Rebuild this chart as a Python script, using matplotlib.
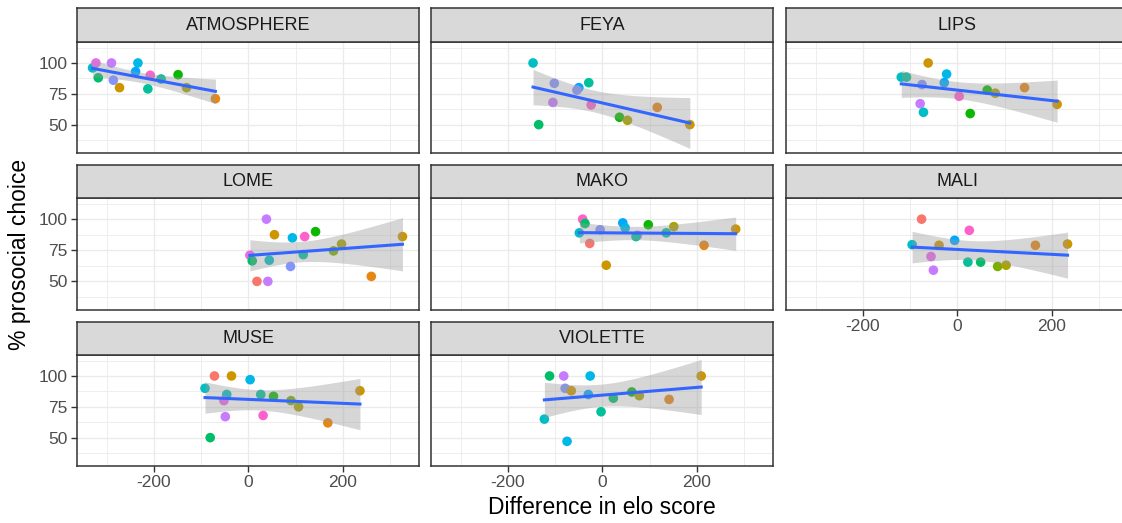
import numpy as np
import matplotlib
matplotlib.use('Agg')
import matplotlib.pyplot as plt

plt.rcParams['font.family'] = ['Liberation Sans', 'DejaVu Sans']
plt.rcParams['axes.unicode_minus'] = False

# 데이터
subjects = ['ATMOSPHERE', 'FEYA', 'LIPS', 'LOME', 'MAKO', 'MALI', 'MUSE', 'VIOLETTE']

atmosphere_x = [-330, -323, -318, -290, -286, -273, -234, -239, -208, -213, -185, -149, -131, -70]
atmosphere_y = [96, 100, 88, 100, 86, 80, 100, 93, 90, 79, 87, 90.5, 80, 71]
atmosphere_p = [8, 13, 6, 12, 11, 2, 9, 10, 14, 7, 7, 5, 3, 1]

feya_x = [-147, -135, -102, -105, -50, -54, -29, -24, 36, 53, 116, 185]
feya_y = [100, 50, 83.5, 68, 80, 78, 84, 66, 56, 53.5, 64, 50]
feya_p = [8, 6, 11, 12, 10, 11, 7, 14, 5, 3, 1, 2]

lips_x = [-119, -108, -62, -75, -23, -28, -79, -72, 3.5, 27, 63, 80, 142, 211]
lips_y = [88.5, 88.5, 100, 82.5, 91, 84, 67, 60, 73, 59, 78, 75.5, 80, 66.5]
lips_p = [8, 7, 2, 11, 9, 10, 12, 8, 14, 5, 5, 3, 1, 2]

lome_x = [3, 8, 18, 38, 41, 44, 55, 89, 93, 119, 116, 142, 180, 197, 260, 326]
lome_y = [71, 66.5, 50, 100, 50, 67, 87.5, 62, 85, 86, 71.5, 90, 74.5, 80, 54, 86]
lome_p = [13, 6, 0, 12, 12, 8, 2, 11, 9, 14, 7, 5, 4, 3, 1, 2]

mako_x = [-42, -37, -49, -27, -5, 8, 43, 48, 74, 71, 97, 135, 151, 215, 282]
mako_y = [100, 96.5, 89, 80.5, 91.5, 63, 97, 93, 87, 86, 95.5, 89, 94, 79, 92]
mako_p = [14, 6, 8, 0, 11, 2, 10, 9, 12, 7, 5, 7, 3, 1, 2]

mali_x = [-96, -76, -56, -51, -39, -6, 25, 22, 49, 85, 103, 165, 233]
mali_y = [79.5, 100, 70, 59, 79, 83, 91, 65.5, 65.5, 62, 63, 79, 80]
mali_p = [8, 0, 13, 12, 2, 10, 14, 7, 6, 4, 3, 1, 2]

muse_x = [-92, -72, -36, 3.5, -46, -52, -49, -81, 26, 53, 90, 106, 31, 168, 236]
muse_y = [90, 100, 100, 97, 85, 80, 67, 50, 85, 83.5, 80, 75, 68, 62, 88]
muse_p = [8, 0, 2, 9, 8, 13, 12, 6, 7, 5, 4, 3, 14, 1, 2]

violette_x = [-112, -82, -26, -79, -66, -30, 23, -3, -123, -75, 62, 78, 141, 209]
violette_y = [100, 100, 100, 90, 88, 85, 82, 71, 65, 47, 87, 84, 81, 100]
violette_p = [6, 12, 9, 11, 2, 10, 6, 7, 8, 9, 5, 3, 1, 2]

xs = [atmosphere_x, feya_x, lips_x, lome_x, mako_x, mali_x, muse_x, violette_x]
ys = [atmosphere_y, feya_y, lips_y, lome_y, mako_y, mali_y, muse_y, violette_y]
ps = [atmosphere_p, feya_p, lips_p, lome_p, mako_p, mali_p, muse_p, violette_p]


def hcl_hex(h, c=100, l=65):
    # ggplot 기본 hue 팔레트 (polar Luv -> sRGB)
    hr = np.radians(h)
    u, v = c * np.cos(hr), c * np.sin(hr)
    Xn, Yn, Zn = 95.047, 100.0, 108.883
    un = 4 * Xn / (Xn + 15 * Yn + 3 * Zn)
    vn = 9 * Yn / (Xn + 15 * Yn + 3 * Zn)
    Y = Yn * ((l + 16) / 116) ** 3
    up = u / (13 * l) + un
    vp = v / (13 * l) + vn
    X = Y * 9 * up / (4 * vp)
    Z = Y * (12 - 3 * up - 20 * vp) / (4 * vp)
    X, Y, Z = X / 100, Y / 100, Z / 100
    rgb = np.array([3.2406 * X - 1.5372 * Y - 0.4986 * Z,
                    -0.9689 * X + 1.8758 * Y + 0.0415 * Z,
                    0.0557 * X - 0.2040 * Y + 1.0570 * Z])
    rgb = np.where(rgb <= 0.0031308, 12.92 * rgb, 1.055 * np.abs(rgb) ** (1 / 2.4) - 0.055)
    return tuple(np.clip(rgb, 0, 1))


n_levels = 16
palette = [hcl_hex(15 + 360 * i / n_levels) for i in range(n_levels)]


def t_crit(df):
    z = 1.959964
    return (z + (z ** 3 + z) / (4 * df) + (5 * z ** 5 + 16 * z ** 3 + 3 * z) / (96 * df ** 2)
            + (3 * z ** 7 + 19 * z ** 5 + 17 * z ** 3 - 15 * z) / (384 * df ** 3))


def lm_fit(x, y):
    x = np.asarray(x, float)
    y = np.asarray(y, float)
    n = len(x)
    b, a = np.polyfit(x, y, 1)
    resid = y - (a + b * x)
    s = np.sqrt(np.sum(resid ** 2) / (n - 2))
    xg = np.linspace(x.min(), x.max(), 80)
    fit = a + b * xg
    se = s * np.sqrt(1 / n + (xg - x.mean()) ** 2 / np.sum((x - x.mean()) ** 2))
    t = t_crit(n - 2)
    return xg, fit, fit - t * se, fit + t * se


W, H = 1122, 523
fig = plt.figure(figsize=(W / 100, H / 100), dpi=100)

cols = [(77, 419), (431, 773), (786, 1128)]
rows = [(42, 153), (198, 310), (355, 466)]
strips = [(8, 42), (165, 198), (322, 355)]
border = '#333333'

for i, name in enumerate(subjects):
    r, c = divmod(i, 3)
    x0, x1 = cols[c]
    y0, y1 = rows[r]
    ax = fig.add_axes([x0 / W, 1 - y1 / H, (x1 - x0) / W, (y1 - y0) / H])
    s0, s1 = strips[r]
    sax = fig.add_axes([x0 / W, 1 - s1 / H, (x1 - x0) / W, (s1 - s0) / H])
    sax.set_facecolor('#D9D9D9')
    sax.set_xticks([])
    sax.set_yticks([])
    for sp in sax.spines.values():
        sp.set_color(border)
        sp.set_linewidth(1.1)
    sax.text(0.5, 0.5, name, ha='center', va='center', fontsize=13, color='#1A1A1A',
             transform=sax.transAxes)

    ax.set_xlim(-363, 361)
    ax.set_ylim(27, 117)
    ax.set_xticks([-200, 0, 200])
    ax.set_xticks([-300, -100, 100, 300], minor=True)
    ax.set_yticks([50, 75, 100])
    ax.set_yticks([37.5, 62.5, 87.5, 112.5], minor=True)
    ax.grid(which='major', color='#EBEBEB', linewidth=1.0)
    ax.grid(which='minor', color='#EBEBEB', linewidth=0.6)
    ax.set_axisbelow(True)
    for sp in ax.spines.values():
        sp.set_color(border)
        sp.set_linewidth(1.1)
    ax.tick_params(which='minor', length=0)
    ax.tick_params(which='major', length=4.5, width=1.0, color=border, labelsize=12.5,
                   labelcolor='#4D4D4D', pad=2)
    if c != 0:
        ax.tick_params(axis='y', which='major', left=False, labelleft=False)
    if i not in (5, 6, 7):
        ax.tick_params(axis='x', which='major', bottom=False, labelbottom=False)

    cols_pts = [palette[p] for p in ps[i]]
    ax.scatter(xs[i], ys[i], s=48, c=cols_pts, linewidths=0, zorder=2)
    xg, fit, lo, hi = lm_fit(xs[i], ys[i])
    ax.fill_between(xg, lo, hi, color='#999999', alpha=0.4, linewidth=0, zorder=3)
    ax.plot(xg, fit, color='#3366FF', linewidth=2.2, zorder=4)

fig.text(602 / W, 1 - 508 / H, 'Difference in elo score', ha='center', va='center',
         fontsize=16.5, color='black')
fig.text(20 / W, 1 - 254 / H, '% prosocial choice', ha='center', va='center',
         rotation=90, fontsize=16.5, color='black')

plt.savefig('out.png', dpi=100)
